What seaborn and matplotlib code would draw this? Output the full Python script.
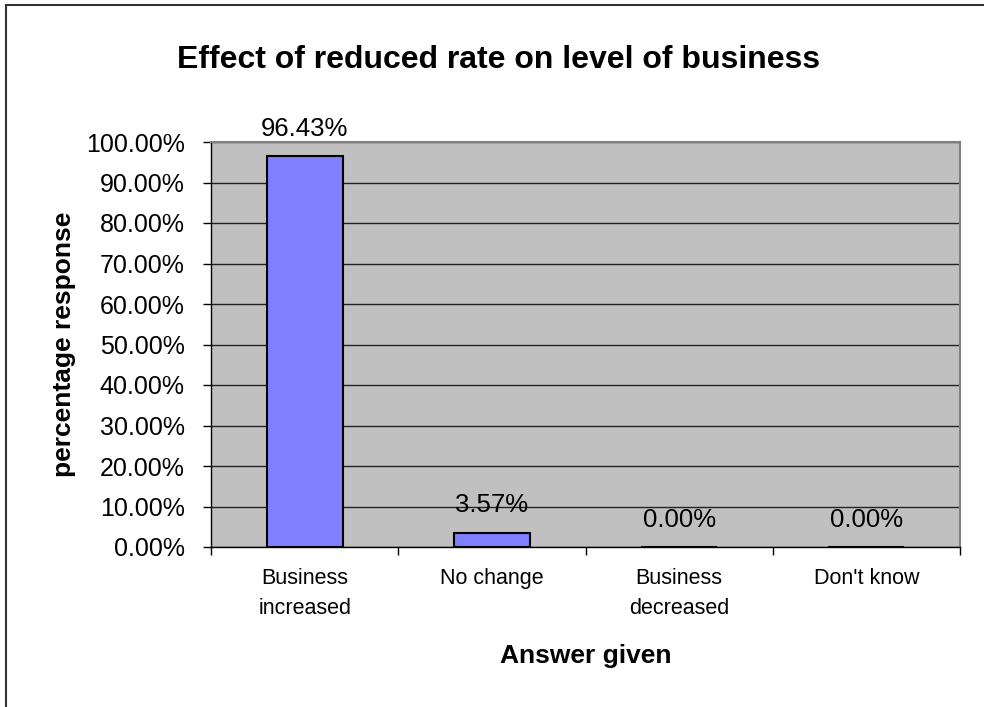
import matplotlib
matplotlib.use("Agg")
import matplotlib.pyplot as plt
from matplotlib.patches import Rectangle
from matplotlib.ticker import FuncFormatter, FixedLocator
import seaborn as sns
import pandas as pd

answers = ["Business\nincreased", "No change", "Business\ndecreased", "Don't know"]
share = [96.43, 3.57, 0.00, 0.00]
y_ticks = [0, 10, 20, 30, 40, 50, 60, 70, 80, 90, 100]

sns.set_style("white")
plt.rcParams["font.family"] = ["Liberation Sans", "DejaVu Sans"]
plt.rcParams["text.color"] = "black"
plt.rcParams["axes.labelcolor"] = "black"
plt.rcParams["xtick.color"] = "black"
plt.rcParams["ytick.color"] = "black"

df = pd.DataFrame({"answer": answers, "share": share})

W, H = 984, 707
fig = plt.figure(figsize=(W / 100, H / 100), dpi=100)
ax = fig.add_axes([211 / W, 1 - 547 / H, (960 - 211) / W, (547 - 142) / H])
ax.set_facecolor("#C0C0C0")

sns.barplot(data=df, x="answer", y="share", color="#8080FF", width=0.406,
            saturation=1, edgecolor="black", linewidth=1.5, ax=ax, zorder=3)

ax.set_ylim(0, 100)
ax.set_xlim(-0.5, len(answers) - 0.5)
ax.set_yticks(y_ticks)
ax.yaxis.set_major_formatter(FuncFormatter(lambda v, p: f"{v:.2f}%"))
ax.grid(axis="y", color="#222222", linewidth=1, zorder=1)
ax.set_axisbelow(True)

ax.tick_params(axis="y", direction="out", length=6, width=1, color="black",
               labelsize=18, pad=13, left=True, labelcolor="black")
ax.tick_params(axis="x", which="major", length=0, labelsize=15.5, pad=15,
               labelcolor="black")
ax.xaxis.set_minor_locator(FixedLocator([i - 0.5 for i in range(len(answers) + 1)]))
ax.tick_params(axis="x", which="minor", direction="out", length=6, width=1,
               color="black", bottom=True)
for lbl in ax.get_xticklabels():
    lbl.set_linespacing(1.6)

for side in ("left", "bottom"):
    ax.spines[side].set_color("black")
    ax.spines[side].set_linewidth(1)
for side in ("top", "right"):
    ax.spines[side].set_color("#808080")
    ax.spines[side].set_linewidth(1.5)

for i, v in enumerate(share):
    ax.annotate(f"{v:.2f}%", (i, v), xytext=(0, 11), textcoords="offset points",
                ha="center", va="bottom", fontsize=18.5, color="black")

ax.set_xlabel("Answer given", fontsize=19, fontweight="bold", labelpad=18,
              color="black")
ax.set_ylabel("percentage response", fontsize=19, fontweight="bold", labelpad=7,
              color="black")

fig.text(499 / W, 1 - 60 / H, "Effect of reduced rate on level of business",
         ha="center", va="center", fontsize=23, fontweight="bold", color="black")

fig.patches.append(Rectangle((5.5 / W, -0.1), 1.2, (H - 4.5) / H + 0.1,
                             transform=fig.transFigure, fill=False,
                             edgecolor="#333333", linewidth=1.5))

fig.savefig("out.png", dpi=100)
